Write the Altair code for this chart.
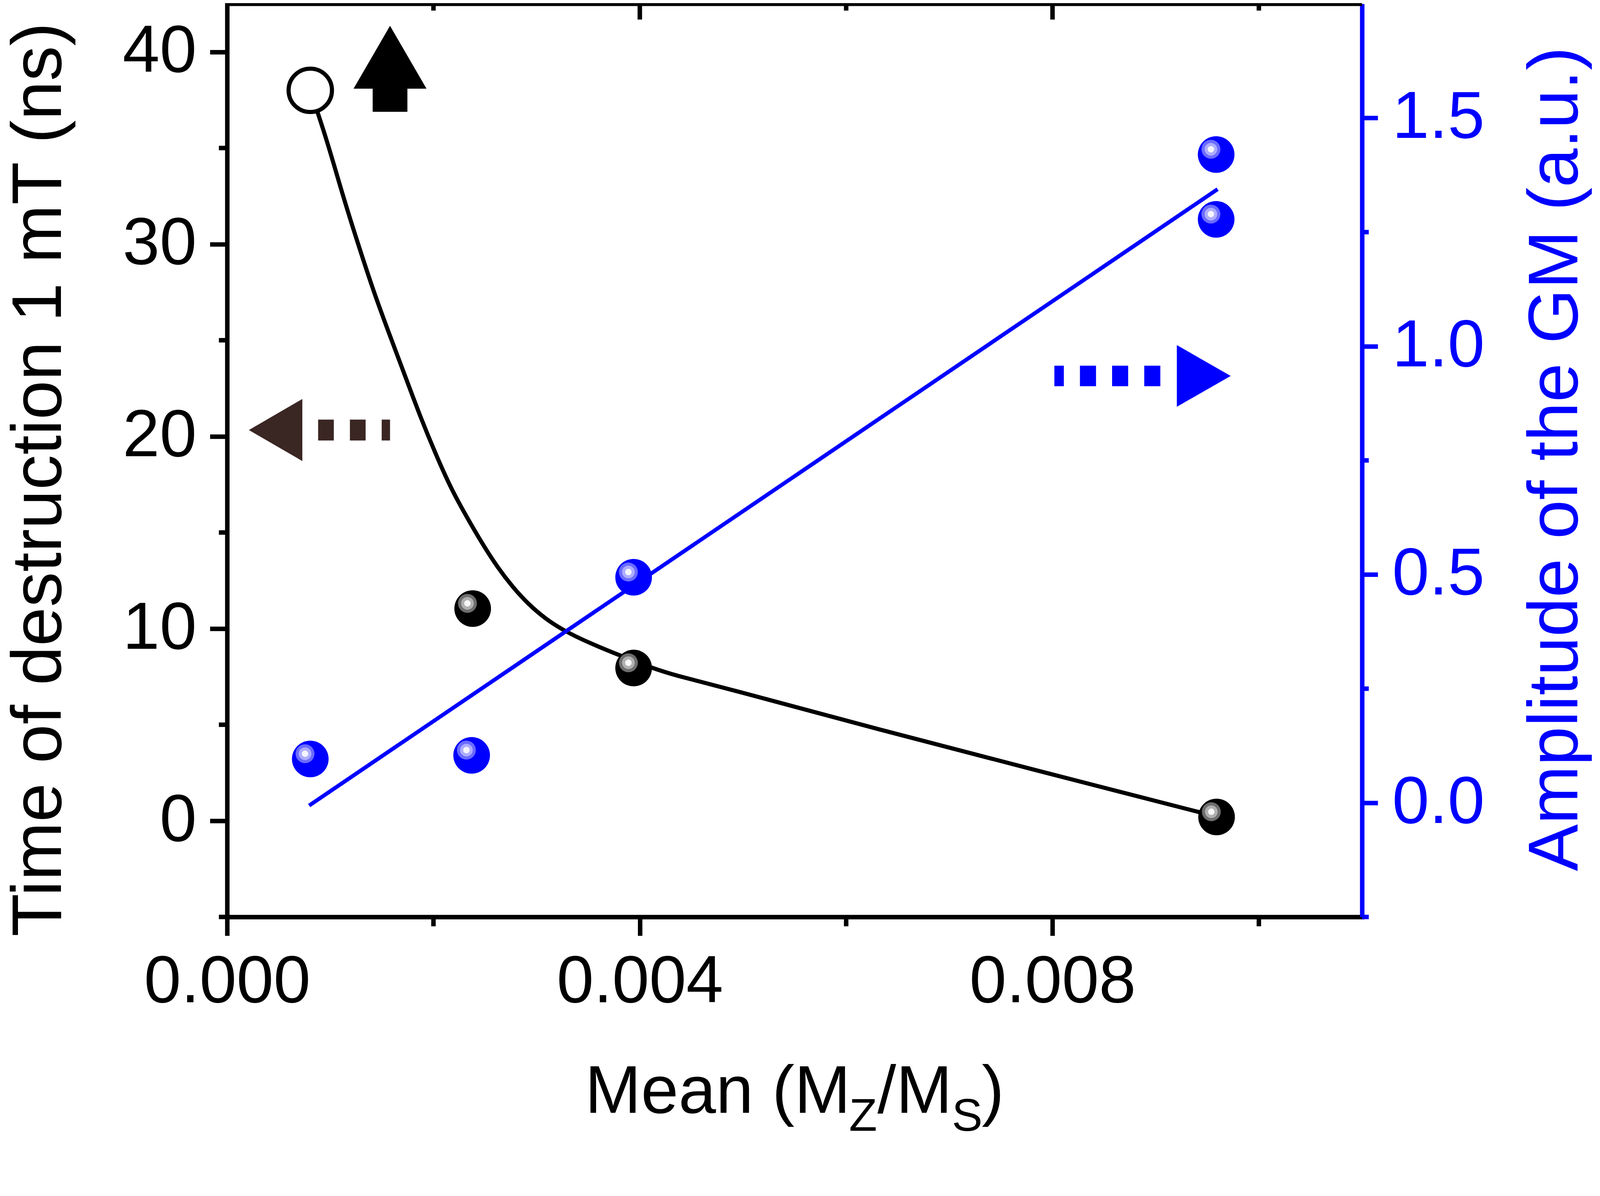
import altair as alt
import pandas as pd

# ---------------- data ----------------
fit_x = [0.000806, 0.000969, 0.001122, 0.001270, 0.001423, 0.001572, 0.001724,
         0.001873, 0.002025, 0.002174, 0.002323, 0.002475, 0.002624, 0.002770,
         0.002915, 0.003096, 0.003281, 0.003477, 0.003822, 0.004109, 0.004330,
         0.004799, 0.006280, 0.007760, 0.009590]
fit_y = [38.0, 35.39, 32.51, 29.99, 27.48, 25.32, 23.16,
         21.01, 19.03, 17.24, 15.80, 14.40, 13.16, 12.15,
         11.29, 10.46, 9.85, 9.33, 8.57, 7.97, 7.58,
         6.96, 4.80, 2.74, 0.22]

time_x = [0.00238, 0.00394, 0.00959]
time_y = [11.04, 7.95, 0.20]
open_x = [0.000806]
open_y = [38.0]

amp_x = [0.000806, 0.00237, 0.00394, 0.009586, 0.009586]
amp_y = [0.096, 0.104, 0.494, 1.420, 1.278]
amp_fit_x = [0.000795, 0.00960]
amp_fit_y = [-0.006, 1.344]

x_major = [0.0, 0.004, 0.008]
x_minor = [0.002, 0.006, 0.010]
yl_major = [0, 10, 20, 30, 40]
yl_minor = [-5, 5, 15, 25, 35]
yr_major = [0.0, 0.5, 1.0, 1.5]
yr_minor = [-0.25, 0.25, 0.75, 1.25]

# annotation anchors (data units)
up_arrow = {"x": [0.001579], "y": [39.12]}
left_arrow_head = {"x": [0.00047], "y": [20.33]}
left_arrow_dash = {"x": [0.000882], "x2": [0.001579], "y": [20.33]}
right_arrow_head = {"x": [0.009466], "y": [0.935]}
right_arrow_dash = {"x": [0.009045], "x2": [0.008018], "y": [0.935]}

# ---------------- styling ----------------
W, H = 3035, 2442
FONT = "Liberation Sans"
BLUE = "#0000ff"
BROWN = "#3a2623"
LW = 12
PAD_TOP = -66

xscale = alt.Scale(domain=[0, 0.011], nice=False, zero=False)
ylscale = alt.Scale(domain=[-5, 42.5], nice=False, zero=False)
yrscale = alt.Scale(domain=[-0.25, 1.75], nice=False, zero=False)

xaxis = alt.Axis(values=x_major, format=".3f", title=None, grid=False,
                 tickSize=50, tickWidth=LW, tickColor="black",
                 domainWidth=LW, domainColor="black", domainCap="square",
                 labelFont=FONT, labelFontSize=178, labelColor="black",
                 labelPadding=37, labelFlush=False, labelOverlap=False,
                 labelLimit=0)
ylaxis = alt.Axis(values=yl_major, format="d", orient="left", grid=False,
                  tickSize=46, tickWidth=LW, tickColor="black",
                  domainWidth=LW, domainColor="black", domainCap="square",
                  labelFont=FONT, labelFontSize=178, labelColor="black",
                  labelPadding=36, labelOverlap=False, labelLimit=0,
                  title="Time of destruction 1 mT (ns)", titleFont=FONT,
                  titleFontSize=188, titleFontWeight="normal", titleColor="black",
                  titleAngle=270, titleAlign="left", titleBaseline="alphabetic",
                  titleX=-445, titleY=2494, titleLimit=0)
yraxis = alt.Axis(values=yr_major, format=".1f", orient="right", grid=False,
                  tickSize=42, tickWidth=LW, tickColor=BLUE,
                  domainWidth=LW, domainColor=BLUE,
                  labelFont=FONT, labelFontSize=178, labelColor=BLUE,
                  labelPadding=38, labelOverlap=False, labelLimit=0,
                  title="Amplitude of the GM (a.u.)", titleFont=FONT,
                  titleFontSize=188, titleFontWeight="normal", titleColor=BLUE,
                  titleAngle=270, titleAlign="left", titleBaseline="alphabetic",
                  titleX=575, titleY=2319, titleLimit=0)

X = alt.X("x:Q", scale=xscale, axis=xaxis)
YL = alt.Y("y:Q", scale=ylscale, axis=ylaxis)
YR = alt.Y("y:Q", scale=yrscale, axis=yraxis)

df_fit = pd.DataFrame({"x": fit_x, "y": fit_y})
df_time = pd.DataFrame({"x": time_x, "y": time_y})
df_open = pd.DataFrame({"x": open_x, "y": open_y})
df_amp = pd.DataFrame({"x": amp_x, "y": amp_y})
df_ampfit = pd.DataFrame({"x": amp_fit_x, "y": amp_fit_y})


def sphere(df, Y, base, rings):
    layers = [alt.Chart(df).mark_point(shape="circle", filled=True, color=base,
                                       size=9604, opacity=1, strokeWidth=0)
              .encode(x=X, y=Y)]
    for col, sz in rings:
        layers.append(alt.Chart(df).mark_point(shape="circle", filled=True, color=col,
                                               size=sz, opacity=1, strokeWidth=0,
                                               xOffset=-14, yOffset=-14)
                      .encode(x=X, y=Y))
    return layers


# ---------------- left (black) layers ----------------
fit_line = alt.Chart(df_fit).mark_line(color="black", strokeWidth=11,
                                       interpolate="basis").encode(x=X, y=YL)
open_pt = alt.Chart(df_open).mark_point(shape="circle", fill="white", stroke="black",
                                        strokeWidth=11, size=13456, opacity=1,
                                        fillOpacity=1).encode(x=X, y=YL)
black_pts = sphere(df_time, YL, "black",
                   [("#6e6e6e", 2550), ("#b0b0b0", 1150), ("#f7f7f7", 300)])

up_path = ("M0,-1L0.848,0.461L0.404,0.461L0.404,1L-0.404,1L-0.404,0.461"
           "L-0.848,0.461Z")
up = alt.Chart(pd.DataFrame(up_arrow)).mark_point(
    shape=up_path, filled=True, color="black", size=52900, opacity=1,
    strokeWidth=0).encode(x=X, y=YL)
lhead = alt.Chart(pd.DataFrame(left_arrow_head)).mark_point(
    shape="M-0.861,0L0.861,-1L0.861,1Z", filled=True, color=BROWN, size=27556,
    opacity=1, strokeWidth=0).encode(x=X, y=YL)
ldash = alt.Chart(pd.DataFrame(left_arrow_dash)).mark_rule(
    color=BROWN, strokeWidth=56, strokeDash=[42, 43], strokeCap="butt").encode(
    x=X, x2="x2:Q", y=YL)

top_frame = alt.Chart(pd.DataFrame({"a": [0]})).mark_rule(
    color="black", strokeWidth=LW).encode(x=alt.value(0), x2=alt.value(W),
                                          y=alt.value(0))
df_xmin = pd.DataFrame({"x": x_minor})
df_xmaj = pd.DataFrame({"x": x_major[1:]})
bottom_minor = alt.Chart(df_xmin).mark_rule(color="black", strokeWidth=LW).encode(
    x=X, y=alt.value(H), y2=alt.value(H + 25))
top_minor = alt.Chart(df_xmin).mark_rule(color="black", strokeWidth=LW).encode(
    x=X, y=alt.value(0), y2=alt.value(18))
top_major = alt.Chart(df_xmaj).mark_rule(color="black", strokeWidth=LW).encode(
    x=X, y=alt.value(0), y2=alt.value(42))
left_minor = alt.Chart(pd.DataFrame({"y": yl_minor})).mark_rule(
    color="black", strokeWidth=LW).encode(y=YL, x=alt.value(-22), x2=alt.value(0))

# x-axis title with subscripts
def txt(s, px, py, size):
    return alt.Chart(pd.DataFrame({"t": [s]})).mark_text(
        font=FONT, fontSize=size, align="left", baseline="alphabetic",
        color="black").encode(text="t:N", x=alt.value(px), y=alt.value(py))

title_parts = [txt("Mean (M", 957, 2966, 180), txt("Z", 1663, 3014, 123),
               txt("/M", 1739, 2966, 180), txt("S", 1938, 3014, 123),
               txt(")", 2018, 2966, 180)]

left = alt.layer(fit_line, open_pt, *black_pts, up, lhead, ldash, top_frame,
                 bottom_minor, top_minor, top_major, left_minor, *title_parts)

# ---------------- right (blue) layers ----------------
amp_line = alt.Chart(df_ampfit).mark_line(color=BLUE, strokeWidth=10.5).encode(x=X, y=YR)
blue_pts = sphere(df_amp, YR, BLUE,
                  [("#6b6bff", 2550), ("#adadff", 1150), ("#f5f5ff", 300)])
rhead = alt.Chart(pd.DataFrame(right_arrow_head)).mark_point(
    shape="M0.873,0L-0.873,-1L-0.873,1Z", filled=True, color=BLUE, size=27225,
    opacity=1, strokeWidth=0).encode(x=X, y=YR)
rdash = alt.Chart(pd.DataFrame(right_arrow_dash)).mark_rule(
    color=BLUE, strokeWidth=55, strokeDash=[43, 43], strokeCap="butt").encode(
    x=X, x2="x2:Q", y=YR)
right_minor = alt.Chart(pd.DataFrame({"y": yr_minor})).mark_rule(
    color=BLUE, strokeWidth=LW).encode(y=YR, x=alt.value(W), x2=alt.value(W + 18))

right = alt.layer(amp_line, *blue_pts, rhead, rdash, right_minor)

chart = alt.layer(left, right).resolve_scale(y="independent").properties(
    width=W, height=H,
    padding={"left": 599, "top": PAD_TOP, "right": 628, "bottom": 604 - PAD_TOP},
    autosize=alt.AutoSizeParams(type="none"),
    background="white",
).configure_view(stroke=None)

chart.save("out.html", embed_options={"renderer": "svg", "actions": False})
